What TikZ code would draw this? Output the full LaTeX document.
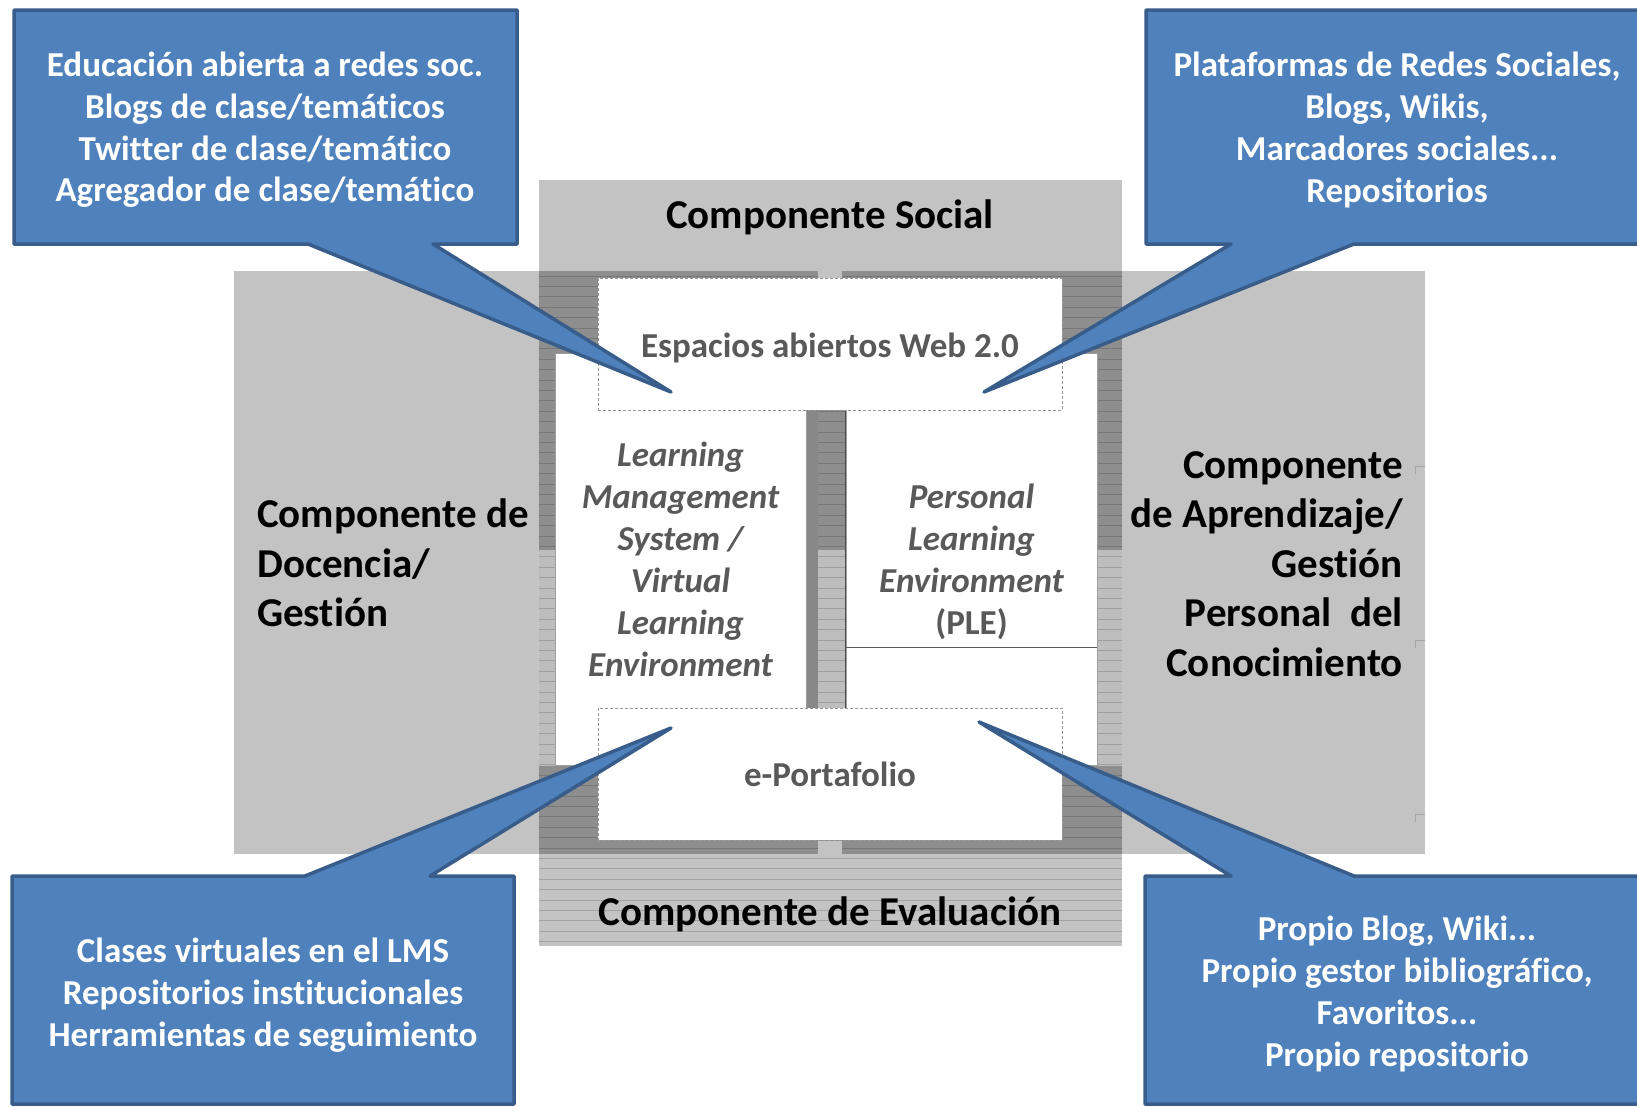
\documentclass[tikz,border=0pt]{standalone}
\usepackage{fontspec}
\setmainfont[Ligatures=NoCommon]{Carlito}
\definecolor{cfill}{HTML}{4F81BD}
\definecolor{cline}{HTML}{385D8A}
\definecolor{bandgray}{HTML}{C3C3C3}
\definecolor{darkband}{HTML}{8E8E8E}
\definecolor{midband}{HTML}{BDBDBD}
\definecolor{stripdark}{HTML}{888888}
\definecolor{txtgray}{HTML}{595959}
\tikzset{
  callout/.style={fill=cfill, draw=cline, line width=3.5pt, line join=round},
  callouttext/.style={text=white, font=\fontsize{35}{41.7}\selectfont\bfseries, align=center, inner sep=0pt},
  comptext/.style={text=black, font=\fontsize{41}{49.5}\selectfont\bfseries, inner sep=0pt},
  whitebox/.style={fill=white, draw=gray!75, line width=0.8pt, inner sep=0pt, outer sep=0pt},
  dashbox/.style={fill=white, draw=gray!80, line width=0.8pt, dash pattern=on 3pt off 2pt, inner sep=0pt, outer sep=0pt},
  innertext/.style={text=txtgray, font=\fontsize{35}{42}\selectfont\bfseries, align=center},
  hatchline/.style={black, opacity=0.16, line width=0.7pt},
  selmark/.style={draw=gray!70, line width=0.8pt}
}
\begin{document}
\begin{tikzpicture}[x=1pt,y=-1pt]
\useasboundingbox (0,0) rectangle (1637,1106);
\clip (0,0) rectangle (1637,1106);
\fill[white] (0,0) rectangle (1637,1106);
% horizontal band (Docencia / Aprendizaje)
\fill[bandgray] (234,271) rectangle (1425,854);
% vertical band (Social / Evaluacion)
\fill[bandgray] (539,180) rectangle (1122,946);
% overlap shading
\fill[darkband] (539,271) rectangle (1122,550);
\fill[midband] (539,550) rectangle (1122,766);
\fill[darkband] (539,766) rectangle (1122,854);
\foreach \yy in {276,286.4,...,946} { \draw[hatchline] (539,\yy) -- (1122,\yy); }
% small light notches
\fill[bandgray] (818,271) rectangle (842,278);
\fill[bandgray] (818,841) rectangle (842,854);
% middle strip details
\fill[stripdark] (806,410) rectangle (818,708);
\draw[gray!60!black, line width=0.8pt] (845,410) -- (845,708);
% selection marks
\foreach \yy in {466,640,814} { \draw[selmark] (1425,\yy) -- (1415,\yy) -- (1415,\yy+8); }

% white boxes
\node[whitebox, minimum width=251pt, minimum height=412pt, innertext, font=\fontsize{35}{42}\selectfont\bfseries\itshape] (lms) at (680.5,559)
  {Learning\\Management\\System /\\Virtual\\Learning\\Environment};
\node[whitebox, minimum width=251pt, minimum height=412pt] (ple) at (971.5,559) {};
\node[innertext] (pletext) at (971.5,562) {\itshape Personal\\\itshape Learning\\\itshape Environment\\(PLE)};
\draw[gray!70!black, line width=0.8pt] (ple.west |- 0,647) -- (ple.east |- 0,647);
\node[dashbox, minimum width=464pt, minimum height=132pt] (web) at (830,344) {};
\node[innertext, anchor=base] (webtext) at (830,357) {Espacios abiertos Web 2.0};
\node[dashbox, minimum width=464pt, minimum height=132pt] (eport) at (830,774) {};
\node[innertext, anchor=base] (eporttext) at (830,786) {e-Portafolio};

% component labels
\node[comptext, anchor=base] (social) at (830,228) {Componente Social};
\node[comptext, anchor=base] (eval) at (830,925) {Componente de Evaluación};
\node[comptext, align=left, anchor=west] (doc) at (257,563) {Componente de\\Docencia/\\Gestión};
\node[comptext, align=right, anchor=east] (apr) at (1403,564) {Componente\\de Aprendizaje/\\Gestión\\Personal\ \ del\\Conocimiento};

% callouts
\coordinate (tipTL) at (671,392);
\coordinate (tipTR) at (984,392);
\coordinate (tipBL) at (671,728);
\coordinate (tipBR) at (979,722);
\draw[callout] (14,10) -- (517,10) -- (517,244) -- (433,244) -- (tipTL) -- (308,244) -- (14,244) -- cycle;
\draw[callout] (1146,10) -- (1650,10) -- (1650,244) -- (1354,244) -- (tipTR) -- (1231,244) -- (1146,244) -- cycle;
\draw[callout] (12,876) -- (305,876) -- (tipBL) -- (430,876) -- (514,876) -- (514,1104) -- (12,1104) -- cycle;
\draw[callout] (1145,876) -- (1231,876) -- (tipBR) -- (1354,876) -- (1650,876) -- (1650,1104) -- (1145,1104) -- cycle;

\node[callouttext] (tTL) at (265,130) {Educación abierta a redes soc.\\Blogs de clase/temáticos\\Twitter de clase/temático\\Agregador de clase/temático};
\node[callouttext] (tTR) at (1397,130) {Plataformas de Redes Sociales,\\Blogs, Wikis,\\Marcadores sociales...\\Repositorios};
\node[callouttext] (tBL) at (263,995) {Clases virtuales en el LMS\\Repositorios institucionales\\Herramientas de seguimiento};
\node[callouttext] (tBR) at (1397,994) {Propio Blog, Wiki...\\Propio gestor bibliográfico,\\Favoritos...\\Propio repositorio};
\end{tikzpicture}
\end{document}
